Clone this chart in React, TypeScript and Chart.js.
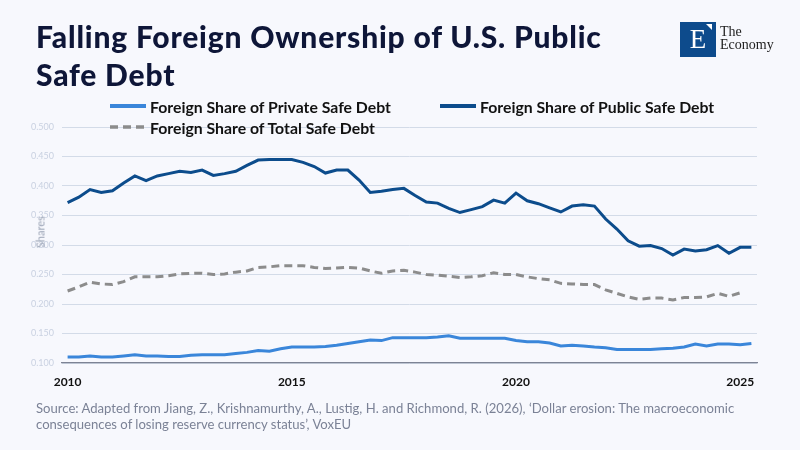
import React, { useEffect, useRef } from "react";
import { Chart, registerables } from "chart.js";

Chart.register(...registerables);

const quarters: string[] = [
  "2010Q1","2010Q2","2010Q3","2010Q4","2011Q1","2011Q2","2011Q3","2011Q4",
  "2012Q1","2012Q2","2012Q3","2012Q4","2013Q1","2013Q2","2013Q3","2013Q4",
  "2014Q1","2014Q2","2014Q3","2014Q4","2015Q1","2015Q2","2015Q3","2015Q4",
  "2016Q1","2016Q2","2016Q3","2016Q4","2017Q1","2017Q2","2017Q3","2017Q4",
  "2018Q1","2018Q2","2018Q3","2018Q4","2019Q1","2019Q2","2019Q3","2019Q4",
  "2020Q1","2020Q2","2020Q3","2020Q4","2021Q1","2021Q2","2021Q3","2021Q4",
  "2022Q1","2022Q2","2022Q3","2022Q4","2023Q1","2023Q2","2023Q3","2023Q4",
  "2024Q1","2024Q2","2024Q3","2024Q4","2025Q1","2025Q2",
];

const xTickLabels: string[] = ["2010", "2015", "2020", "2025"];

const privateShare: number[] = [
  0.110, 0.110, 0.112, 0.110, 0.110, 0.112, 0.114, 0.112, 0.112, 0.111,
  0.111, 0.113, 0.114, 0.114, 0.114, 0.116, 0.118, 0.121, 0.120, 0.124,
  0.127, 0.127, 0.127, 0.128, 0.130, 0.133, 0.136, 0.139, 0.138, 0.143,
  0.143, 0.143, 0.143, 0.144, 0.146, 0.142, 0.142, 0.142, 0.142, 0.142,
  0.138, 0.136, 0.136, 0.134, 0.129, 0.130, 0.129, 0.127, 0.126, 0.123,
  0.123, 0.123, 0.123, 0.124, 0.125, 0.127, 0.132, 0.129, 0.132, 0.132,
  0.131, 0.133,
];

const publicShare: number[] = [
  0.372, 0.381, 0.394, 0.389, 0.392, 0.405, 0.417, 0.409, 0.417, 0.421,
  0.425, 0.423, 0.427, 0.418, 0.421, 0.425, 0.435, 0.444, 0.445, 0.445,
  0.445, 0.440, 0.433, 0.422, 0.427, 0.427, 0.410, 0.389, 0.391, 0.394,
  0.396, 0.384, 0.373, 0.371, 0.362, 0.355, 0.360, 0.365, 0.376, 0.371,
  0.388, 0.375, 0.370, 0.363, 0.356, 0.366, 0.368, 0.366, 0.344, 0.327,
  0.307, 0.298, 0.299, 0.294, 0.283, 0.293, 0.290, 0.292, 0.299, 0.286,
  0.296, 0.296,
];

const totalShare: (number | null)[] = [
  0.222, 0.229, 0.237, 0.234, 0.233, 0.238, 0.246, 0.246, 0.246, 0.248,
  0.251, 0.252, 0.252, 0.250, 0.251, 0.254, 0.256, 0.262, 0.263, 0.265,
  0.265, 0.265, 0.262, 0.260, 0.261, 0.262, 0.261, 0.256, 0.252, 0.256,
  0.257, 0.254, 0.250, 0.249, 0.247, 0.245, 0.246, 0.248, 0.253, 0.250,
  0.250, 0.246, 0.243, 0.241, 0.235, 0.234, 0.233, 0.233, 0.224, 0.218,
  0.212, 0.208, 0.210, 0.210, 0.207, 0.211, 0.211, 0.212, 0.218, 0.213,
  0.219, null,
];

const seriesNames = [
  "Foreign Share of Private Safe Debt",
  "Foreign Share of Public Safe Debt",
  "Foreign Share of Total Safe Debt",
];

const COLOR_PRIVATE = "#3a86da";
const COLOR_PUBLIC = "#0c4c8c";
const COLOR_TOTAL = "#8c8c8c";
const BG = "#f7f8fd";
const FONT = "Lato, 'Noto Sans', sans-serif";

function LegendLine({ color, dashed }: { color: string; dashed?: boolean }) {
  if (dashed) {
    return (
      <svg width={36} height={4} style={{ display: "block" }}>
        <line x1={0} y1={2} x2={36} y2={2} stroke={color} strokeWidth={3.5} strokeDasharray="8 5" />
      </svg>
    );
  }
  return <div style={{ width: 36, height: 3.5, background: color }} />;
}

export default function App() {
  const canvasRef = useRef<HTMLCanvasElement | null>(null);

  useEffect(() => {
    document.body.style.margin = "0";
    document.body.style.background = BG;
    const ctx = canvasRef.current!.getContext("2d")!;
    const chart = new Chart(ctx, {
      type: "line",
      data: {
        labels: quarters,
        datasets: [
          {
            label: seriesNames[0],
            data: privateShare,
            borderColor: COLOR_PRIVATE,
            borderWidth: 3,
            pointRadius: 0,
            tension: 0,
          },
          {
            label: seriesNames[1],
            data: publicShare,
            borderColor: COLOR_PUBLIC,
            borderWidth: 3,
            pointRadius: 0,
            tension: 0,
          },
          {
            label: seriesNames[2],
            data: totalShare,
            borderColor: COLOR_TOTAL,
            borderWidth: 3,
            borderDash: [8, 5],
            pointRadius: 0,
            tension: 0,
            spanGaps: false,
          },
        ],
      },
      options: {
        responsive: false,
        animation: false,
        layout: { padding: { top: 127, left: 0, right: 43, bottom: 57 } },
        plugins: {
          legend: { display: false },
          tooltip: { enabled: false },
        },
        scales: {
          x: {
            type: "category",
            offset: true,
            afterFit: (scale: any) => {
              scale.height = 30;
            },
            grid: { display: false, drawTicks: false },
            border: { display: true, color: "#7d8394", width: 1.2 },
            ticks: {
              autoSkip: false,
              maxRotation: 0,
              padding: 12,
              color: "#111111",
              font: { family: FONT, size: 12, weight: "bold" },
              callback: (_v: any, i: number) => {
                const q = quarters[i];
                const y = q.slice(0, 4);
                return q.endsWith("Q1") && xTickLabels.includes(y) ? y : "";
              },
            },
          },
          y: {
            min: 0.1,
            max: 0.5,
            afterFit: (scale: any) => {
              scale.width = 62;
            },
            grid: { color: "#d3dbe8", lineWidth: 1, drawTicks: false },
            border: { display: false },
            ticks: {
              stepSize: 0.05,
              padding: 8,
              color: "#c9d1e1",
              font: { family: FONT, size: 9 },
              callback: (v: any) => Number(v).toFixed(3),
            },
          },
        },
      },
    });
    return () => chart.destroy();
  }, []);

  return (
    <div style={{ position: "absolute", left: 0, top: 0, width: 800, height: 450, background: BG, overflow: "hidden", fontFamily: FONT }}>
      <canvas ref={canvasRef} width={800} height={450} style={{ position: "absolute", left: 0, top: 0, width: 800, height: 450 }} />
      <div style={{ position: "absolute", left: 36, top: 17, fontSize: 30, fontWeight: 900, color: "#0e1638", lineHeight: "38px", letterSpacing: 0.8, whiteSpace: "nowrap" }}>
        Falling Foreign Ownership of U.S. Public
        <br />
        Safe Debt
      </div>
      {/* legend */}
      <div style={{ position: "absolute", left: 110, top: 96, display: "flex", alignItems: "center", height: 20 }}>
        <LegendLine color={COLOR_PRIVATE} />
        <span style={{ marginLeft: 4, fontSize: 15.8, fontWeight: 700, color: "#111", whiteSpace: "nowrap" }}>{seriesNames[0]}</span>
      </div>
      <div style={{ position: "absolute", left: 440, top: 96, display: "flex", alignItems: "center", height: 20 }}>
        <LegendLine color={COLOR_PUBLIC} />
        <span style={{ marginLeft: 4, fontSize: 15.8, fontWeight: 700, color: "#111", whiteSpace: "nowrap" }}>{seriesNames[1]}</span>
      </div>
      <div style={{ position: "absolute", left: 110, top: 117, display: "flex", alignItems: "center", height: 20 }}>
        <LegendLine color={COLOR_TOTAL} dashed />
        <span style={{ marginLeft: 4, fontSize: 15.8, fontWeight: 700, color: "#111", whiteSpace: "nowrap" }}>{seriesNames[2]}</span>
      </div>
      {/* y axis title */}
      <div style={{ position: "absolute", left: 40, top: 232, transform: "translate(-50%, -50%) rotate(-90deg)", fontSize: 11, color: "#9aa3b5", whiteSpace: "nowrap" }}>
        Shares
      </div>
      {/* footer */}
      <div style={{ position: "absolute", left: 36, top: 400, fontSize: 13.1, color: "#7b8296", lineHeight: "16px", whiteSpace: "nowrap" }}>
        Source: Adapted from Jiang, Z., Krishnamurthy, A., Lustig, H. and Richmond, R. (2026), ‘Dollar erosion: The macroeconomic
        <br />
        consequences of losing reserve currency status’, VoxEU
      </div>
      {/* logo */}
      <div style={{ position: "absolute", left: 680, top: 22, width: 36, height: 35, background: "#0d4b8c" }}>
        <div style={{ position: "absolute", left: 0, top: 0, width: 36, height: 35, display: "flex", alignItems: "center", justifyContent: "center", color: "#fff", fontFamily: "'Liberation Serif', 'DejaVu Serif', serif", fontSize: 27, lineHeight: "35px" }}>
          E
        </div>
        <svg width={8} height={8} style={{ position: "absolute", left: 26, top: 2 }}>
          <polygon points="0,0 6,0 6,6" fill="#fff" />
        </svg>
      </div>
      <div style={{ position: "absolute", left: 720, top: 25, fontFamily: "'Liberation Serif', 'DejaVu Serif', serif", fontSize: 14, lineHeight: "13px", color: "#222" }}>
        The
        <br />
        Economy
      </div>
    </div>
  );
}
